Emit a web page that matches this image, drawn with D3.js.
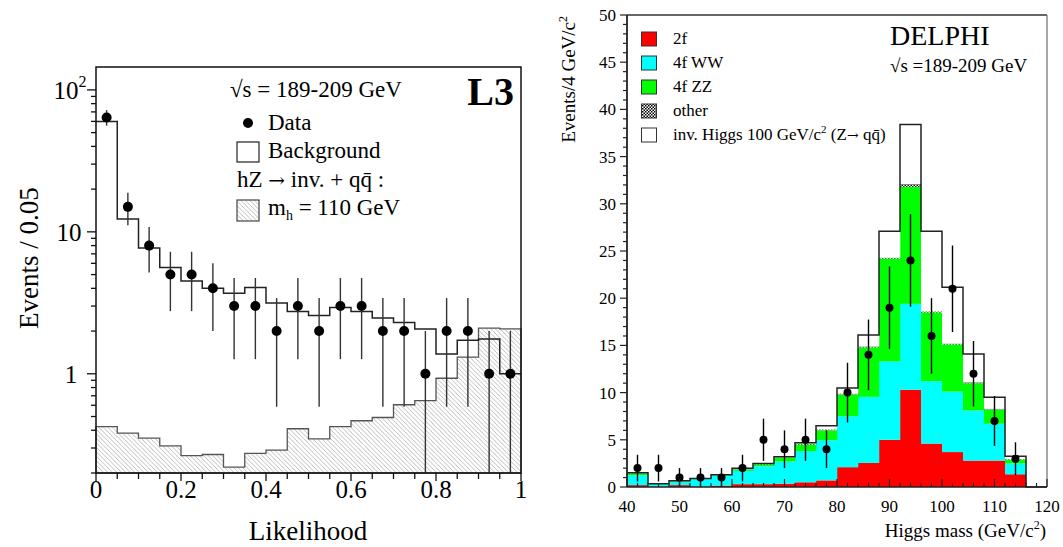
<!DOCTYPE html>
<html><head><meta charset="utf-8">
<script src="https://cdn.jsdelivr.net/npm/d3@7"></script>
<style>body{margin:0;background:#fff}svg{display:block}text{font-family:"Liberation Serif","Times New Roman",serif;fill:#000}</style>
</head><body>
<svg id="c" width="1063" height="547"></svg>
<script>
// ---------- Left panel (L3) data ----------
const lkEdges = [0,0.05,0.1,0.15,0.2,0.25,0.3,0.35,0.4,0.45,0.5,0.55,0.6,0.65,0.7,0.75,0.8,0.85,0.9,0.95,1.0];
const lkBackground = [60,12.3,7.7,5.6,4.5,4.0,3.7,4.05,3.15,2.75,2.57,2.93,2.75,2.47,2.3,2.07,1.38,1.72,1.76,1.0];
const lkSignal = [0.425,0.382,0.352,0.311,0.265,0.27,0.22,0.275,0.29,0.41,0.348,0.425,0.467,0.492,0.605,0.646,0.93,1.31,2.1,2.07];
const lkData = [64,15,8,5,5,4,3,3,2,3,2,3,3,2,2,1,2,2,1,1];
const lkXTicks = [0,0.2,0.4,0.6,0.8,1];

// ---------- Right panel (DELPHI) data ----------
const hmEdges = [40,44,48,52,56,60,64,68,72,76,80,84,88,92,96,100,104,108,112,116,120];
const hm2f    = [0.2,0.03,0.2,0.05,0.15,0.3,0.3,0.35,0.5,0.7,2.1,2.55,5.0,10.3,4.6,3.7,2.8,2.8,1.35,0];
const hmWW    = [1.04,0.27,0.35,0.8,1.05,1.4,1.9,2.35,3.3,4.25,5.4,7.0,8.3,9.1,6.6,6.4,5.3,3.9,1.15,0];
const hmZZ    = [0.21,0.02,0.05,0.02,0.05,0.15,0.2,0.4,0.7,1.05,2.3,5.25,10.9,12.4,7.3,5.0,2.9,1.5,0.4,0];
const hmOther = [0.05,0.03,0.05,0.03,0.05,0.05,0.05,0.05,0.1,0.1,0.1,0.1,0.1,0.3,0.1,0.1,0.1,0.1,0.05,0];
const hmHiggs = [0,0,0.02,0,0,0.08,0.05,0.05,0.1,0.4,0.6,1.2,2.8,6.3,8.5,5.95,3.0,1.2,0.3,0];
const hmData  = [2,2,1,1,1,2,5,4,5,4,10,14,19,24,16,21,12,7,3];
const hmXTicks = [40,50,60,70,80,90,100,110,120];
const hmYTicks = [0,5,10,15,20,25,30,35,40,45,50];
const hmLegend = ["2f","4f WW","4f ZZ","other","inv. Higgs"];

const svg = d3.select("#c");
const defs = svg.append("defs");
const hatch = defs.append("pattern").attr("id","hatch").attr("patternUnits","userSpaceOnUse").attr("width",4.5).attr("height",4.5);
hatch.append("rect").attr("width",4.5).attr("height",4.5).attr("fill","#fff");
hatch.append("path").attr("d","M-1,-1 L5.5,5.5 M-1,3.5 L1,5.5 M3.5,-1 L5.5,1").attr("stroke","#a0a0a0").attr("stroke-width",0.7);
const check = defs.append("pattern").attr("id","check").attr("patternUnits","userSpaceOnUse").attr("width",3).attr("height",3);
check.append("rect").attr("width",3).attr("height",3).attr("fill","#fff");
check.append("rect").attr("width",1.5).attr("height",1.5).attr("fill","#000");
check.append("rect").attr("x",1.5).attr("y",1.5).attr("width",1.5).attr("height",1.5).attr("fill","#000");

// =============== LEFT PANEL ===============
const L = {x0:96, x1:521, y0:67, y1:473};
const lx = d3.scaleLinear().domain([0,1]).range([L.x0,L.x1]);
const ly = d3.scaleLog().domain([0.2,145]).range([L.y1,L.y0]);
const gl = svg.append("g");
const nL = lkData.length;
const stepPts = vals => vals.map((v,i)=>[lkEdges[i],v]).concat([[lkEdges[nL], vals[nL-1]]]);

const lArea = d3.area().curve(d3.curveStepAfter).x(d=>lx(d[0])).y0(L.y1).y1(d=>ly(d[1]));
gl.append("path").datum(stepPts(lkSignal)).attr("d",lArea).attr("fill","url(#hatch)").attr("stroke","#555").attr("stroke-width",1.3);
const lLine = d3.line().curve(d3.curveStepAfter).x(d=>lx(d[0])).y(d=>ly(d[1]));
gl.append("path").datum(stepPts(lkBackground)).attr("d",lLine).attr("fill","none").attr("stroke","#222").attr("stroke-width",1.5);
lkData.forEach((n,i)=>{
  const xc = lx((lkEdges[i]+lkEdges[i+1])/2);
  const lo = Math.max(n-Math.sqrt(n),0.2), hi = n+Math.sqrt(n);
  gl.append("line").attr("x1",xc).attr("x2",xc).attr("y1",ly(lo)).attr("y2",ly(hi)).attr("stroke","#333").attr("stroke-width",1.4);
  gl.append("circle").attr("cx",xc).attr("cy",ly(n)).attr("r",5).attr("fill","#000");
});
gl.append("rect").attr("x",L.x0).attr("y",L.y0).attr("width",L.x1-L.x0).attr("height",L.y1-L.y0).attr("fill","none").attr("stroke","#111").attr("stroke-width",1.5);
d3.range(0,1.0001,0.05).forEach(t=>{
  const major = lkXTicks.some(m=>Math.abs(m-t)<1e-6);
  gl.append("line").attr("x1",lx(t)).attr("x2",lx(t)).attr("y1",L.y1).attr("y2",L.y1+(major?8:6)).attr("stroke","#111").attr("stroke-width",1.3);
});
lkXTicks.forEach(t=>{
  gl.append("text").attr("x",lx(t)).attr("y",498).attr("text-anchor","middle").attr("font-size",25).text(d3.format("~g")(t));
});
const lMinor = [0.2,0.3,0.4,0.5,0.6,0.7,0.8,0.9,2,3,4,5,6,7,8,9,20,30,40,50,60,70,80,90];
lMinor.forEach(t=>gl.append("line").attr("x1",L.x0).attr("x2",L.x0-5).attr("y1",ly(t)).attr("y2",ly(t)).attr("stroke","#111").attr("stroke-width",1.3));
[1,10,100].forEach(t=>gl.append("line").attr("x1",L.x0).attr("x2",L.x0-9).attr("y1",ly(t)).attr("y2",ly(t)).attr("stroke","#111").attr("stroke-width",1.3));
gl.append("text").attr("x",71).attr("y",ly(1)+9).attr("text-anchor","middle").attr("font-size",25).text("1");
gl.append("text").attr("x",69).attr("y",ly(10)+9).attr("text-anchor","middle").attr("font-size",25).text("10");
const t100 = gl.append("text").attr("x",70).attr("y",ly(100)+9).attr("text-anchor","middle").attr("font-size",25);
t100.append("tspan").text("10");
t100.append("tspan").attr("font-size",16).attr("dy",-12).text("2");
gl.append("text").attr("transform","translate(38,258) rotate(-90)").attr("text-anchor","middle").attr("font-size",27).text("Events / 0.05");
gl.append("text").attr("x",308).attr("y",540).attr("text-anchor","middle").attr("font-size",27).text("Likelihood");
// legend
gl.append("text").attr("x",230).attr("y",97).attr("font-size",23).text("√s = 189-209 GeV");
gl.append("text").attr("x",514).attr("y",105).attr("text-anchor","end").attr("font-size",40).attr("font-weight","bold").text("L3");
gl.append("circle").attr("cx",248).attr("cy",123).attr("r",5).attr("fill","#000");
gl.append("text").attr("x",268).attr("y",130).attr("font-size",23).text("Data");
gl.append("rect").attr("x",237).attr("y",142).attr("width",22).attr("height",20).attr("fill","#fff").attr("stroke","#222").attr("stroke-width",1.2);
gl.append("text").attr("x",268).attr("y",158).attr("font-size",23).text("Background");
const hz = gl.append("text").attr("x",237).attr("y",187).attr("font-size",23);
hz.append("tspan").text("hZ ");
hz.append("tspan").attr("font-family","DejaVu Serif").attr("font-size",20).text("→");
hz.append("tspan").text(" inv. + qq\u0304 :");
gl.append("rect").attr("x",237).attr("y",200).attr("width",22).attr("height",21).attr("fill","url(#hatch)").attr("stroke","#444").attr("stroke-width",1.2);
const mh = gl.append("text").attr("x",268).attr("y",215).attr("font-size",23);
mh.append("tspan").text("m");
mh.append("tspan").attr("font-size",14).attr("dy",5).text("h");
mh.append("tspan").attr("dy",-5).text(" = 110 GeV");

// =============== RIGHT PANEL ===============
const R = {x0:627, x1:1047, y0:15, y1:487};
const rx = d3.scaleLinear().domain([40,120]).range([R.x0,R.x1]);
const ry = d3.scaleLinear().domain([0,50]).range([R.y1,R.y0]);
const gr = svg.append("g");
const nR = hm2f.length;
const rows = d3.range(nR).map(i=>({i, twoF:hm2f[i], ww:hmWW[i], zz:hmZZ[i], other:hmOther[i], higgs:hmHiggs[i]}));
const keys = ["twoF","ww","zz","other","higgs"];
const fills = {twoF:"#ff0000", ww:"#00ffff", zz:"#00ff00", other:"url(#check)", higgs:"#ffffff"};
const stacked = d3.stack().keys(keys)(rows);
stacked.forEach(layer=>{
  gr.selectAll(null).data(layer).enter().append("rect")
    .attr("x",d=>rx(hmEdges[d.data.i])).attr("width",d=>rx(hmEdges[d.data.i+1])-rx(hmEdges[d.data.i])+0.3)
    .attr("y",d=>ry(d[1])).attr("height",d=>Math.max(0,ry(d[0])-ry(d[1])))
    .attr("fill",fills[layer.key]);
});
const totals = rows.map(r=>r.twoF+r.ww+r.zz+r.other+r.higgs);
const rPts = totals.map((v,i)=>[hmEdges[i],v]).concat([[hmEdges[nR],totals[nR-1]]]);
gr.append("path").datum(rPts).attr("d",d3.line().curve(d3.curveStepAfter).x(d=>rx(d[0])).y(d=>ry(d[1])))
  .attr("fill","none").attr("stroke","#222").attr("stroke-width",1.5);
hmData.forEach((n,i)=>{
  const xc = rx((hmEdges[i]+hmEdges[i+1])/2);
  const lo = Math.max(0,n-Math.sqrt(n)), hi = n+Math.sqrt(n);
  gr.append("line").attr("x1",xc).attr("x2",xc).attr("y1",ry(lo)).attr("y2",ry(hi)).attr("stroke","#000").attr("stroke-width",1.4);
  gr.append("circle").attr("cx",xc).attr("cy",ry(n)).attr("r",4).attr("fill","#000");
});
gr.append("line").attr("x1",R.x0).attr("x2",R.x1).attr("y1",R.y0).attr("y2",R.y0).attr("stroke","#333").attr("stroke-width",1.3);
gr.append("line").attr("x1",R.x1).attr("x2",R.x1).attr("y1",R.y0).attr("y2",R.y1).attr("stroke","#777").attr("stroke-width",1.3);
gr.append("line").attr("x1",R.x0).attr("x2",R.x1).attr("y1",R.y1).attr("y2",R.y1).attr("stroke","#222").attr("stroke-width",1.5);
gr.append("line").attr("x1",R.x0).attr("x2",R.x0).attr("y1",R.y0).attr("y2",R.y1).attr("stroke","#222").attr("stroke-width",1.8);
d3.range(0,51,1).forEach(t=>{
  const major = t%5===0;
  gr.append("line").attr("x1",R.x0).attr("x2",R.x0-(major?7:4)).attr("y1",ry(t)).attr("y2",ry(t)).attr("stroke","#222").attr("stroke-width",1.2);
});
hmYTicks.forEach(t=>gr.append("text").attr("x",616).attr("y",ry(t)+6).attr("text-anchor","end").attr("font-size",17).text(t));
d3.range(40,121,2).forEach(t=>{
  const major = t%10===0;
  gr.append("line").attr("x1",rx(t)).attr("x2",rx(t)).attr("y1",R.y1).attr("y2",R.y1-(major?8:4)).attr("stroke","#222").attr("stroke-width",1.2);
});
hmXTicks.forEach(t=>gr.append("text").attr("x",rx(t)).attr("y",512).attr("text-anchor","middle").attr("font-size",17).text(t));
const yt = gr.append("text").attr("transform","translate(575,16) rotate(-90)").attr("text-anchor","end").attr("font-size",19);
yt.append("tspan").text("Events/4 GeV/c");
yt.append("tspan").attr("font-size",12).attr("dy",-8).text("2");
const xt = gr.append("text").attr("x",1046).attr("y",537).attr("text-anchor","end").attr("font-size",19);
xt.append("tspan").text("Higgs mass (GeV/c");
xt.append("tspan").attr("font-size",12).attr("dy",-8).text("2");
xt.append("tspan").attr("dy",8).text(")");
gr.append("text").attr("x",890).attr("y",45).attr("font-size",28).text("DELPHI");
gr.append("text").attr("x",890).attr("y",72).attr("font-size",19).text("√s =189-209 GeV");
const legFill = ["#ff0000","#00ffff","#00ff00","url(#check)","#ffffff"];
const legY = [32,56,80,104,128];
hmLegend.forEach((name,k)=>{
  gr.append("rect").attr("x",641.5).attr("y",legY[k]).attr("width",15).attr("height",14).attr("fill",legFill[k]).attr("stroke","#333").attr("stroke-width",1);
  if(k<4) gr.append("text").attr("x",673).attr("y",legY[k]+12).attr("font-size",17).text(name);
});
const lh = gr.append("text").attr("x",673).attr("y",legY[4]+12).attr("font-size",17);
lh.append("tspan").text("inv. Higgs 100 GeV/c");
lh.append("tspan").attr("font-size",11).attr("dy",-7).text("2");
lh.append("tspan").attr("dy",7).text(" (Z");
lh.append("tspan").attr("font-family","DejaVu Serif").attr("font-size",14).text("→");
lh.append("tspan").text(" qq\u0304)");
</script>
</body></html>
